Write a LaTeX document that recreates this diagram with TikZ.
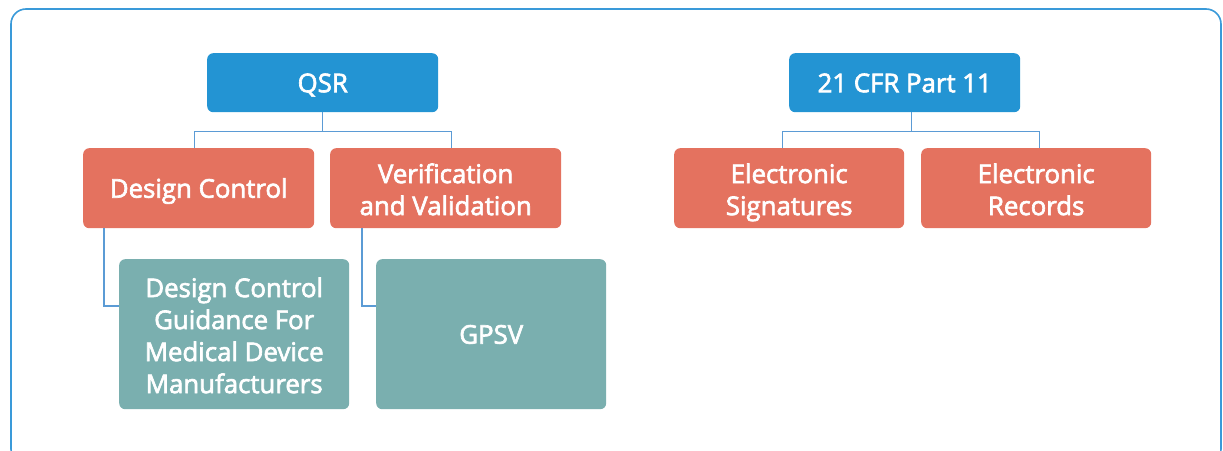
\documentclass[tikz,border=0pt]{standalone}
\usepackage{fontspec}
\setmainfont{Open Sans}[FakeBold=2.5]
\usetikzlibrary{calc}
\definecolor{hblue}{HTML}{2394D3}
\definecolor{horange}{HTML}{E4725F}
\definecolor{hteal}{HTML}{7AAFAF}
\definecolor{hline}{HTML}{5B9BD5}
\definecolor{hframe}{HTML}{3A9AD9}
\newcommand\boxstrut{\rule[-6.5pt]{0pt}{32pt}}
\newcommand\tallstrut{\rule{0pt}{28.3pt}}
\begin{document}
\begin{tikzpicture}[x=1pt,y=-1pt,
  box/.style={rounded corners=6pt, text=white, align=center, inner sep=0pt,
    font=\fontsize{25.8}{32}\selectfont, anchor=north west, minimum width=231pt,
    execute at begin node=\boxstrut, execute at end node=\boxstrut},
  topbox/.style={box, fill=hblue, minimum height=59pt},
  midbox/.style={box, fill=horange, minimum height=80pt},
  lowbox/.style={box, fill=hteal, minimum height=150pt, minimum width=230pt},
  conn/.style={draw=hline, line width=1.1pt},
  frame/.style={draw=hframe, line width=1.6pt, rounded corners=15pt}]
\useasboundingbox (0,0) rectangle (1223,450);
\begin{scope}
\clip (0,0) rectangle (1223,450);
\draw[frame] (11,9) rectangle (1221,464);
\end{scope}
\node[topbox] (qsr) at (207,53) {QSR};
\node[topbox] (cfr) at (789,53) {21 CFR Part 11};
\node[midbox] (dc) at (83,148) {Design Control};
\node[midbox] (vv) at (330,148) {\tallstrut Verification\\and Validation};
\node[midbox, minimum width=230pt] (es) at (674,148) {\tallstrut Electronic\\Signatures};
\node[midbox, minimum width=230pt] (er) at (921,148) {\tallstrut Electronic\\Records};
\node[lowbox] (dcg) at (119,259) {\tallstrut Design Control\\Guidance For\\Medical Device\\Manufacturers};
\node[lowbox] (gpsv) at (376,259) {GPSV};
\coordinate (qj) at ($(qsr.south)+(0,19)$);
\draw[conn] (qsr.south) -- (qj);
\draw[conn] ([xshift=-4.5pt]dc.north) |- (qj) -| ([xshift=5.5pt]vv.north);
\coordinate (cj) at ($(cfr.south)+(6.5,19)$);
\draw[conn] ([xshift=6.5pt]cfr.south) -- (cj);
\draw[conn] ([xshift=-7pt]es.north) |- (cj) -| ([xshift=3pt]er.north);
\draw[conn] ([xshift=21pt]dc.south west) |- ($(dcg.north west)+(0,47)$);
\draw[conn] ([xshift=32pt]vv.south west) |- ($(gpsv.north west)+(0,47)$);
\end{tikzpicture}
\end{document}
